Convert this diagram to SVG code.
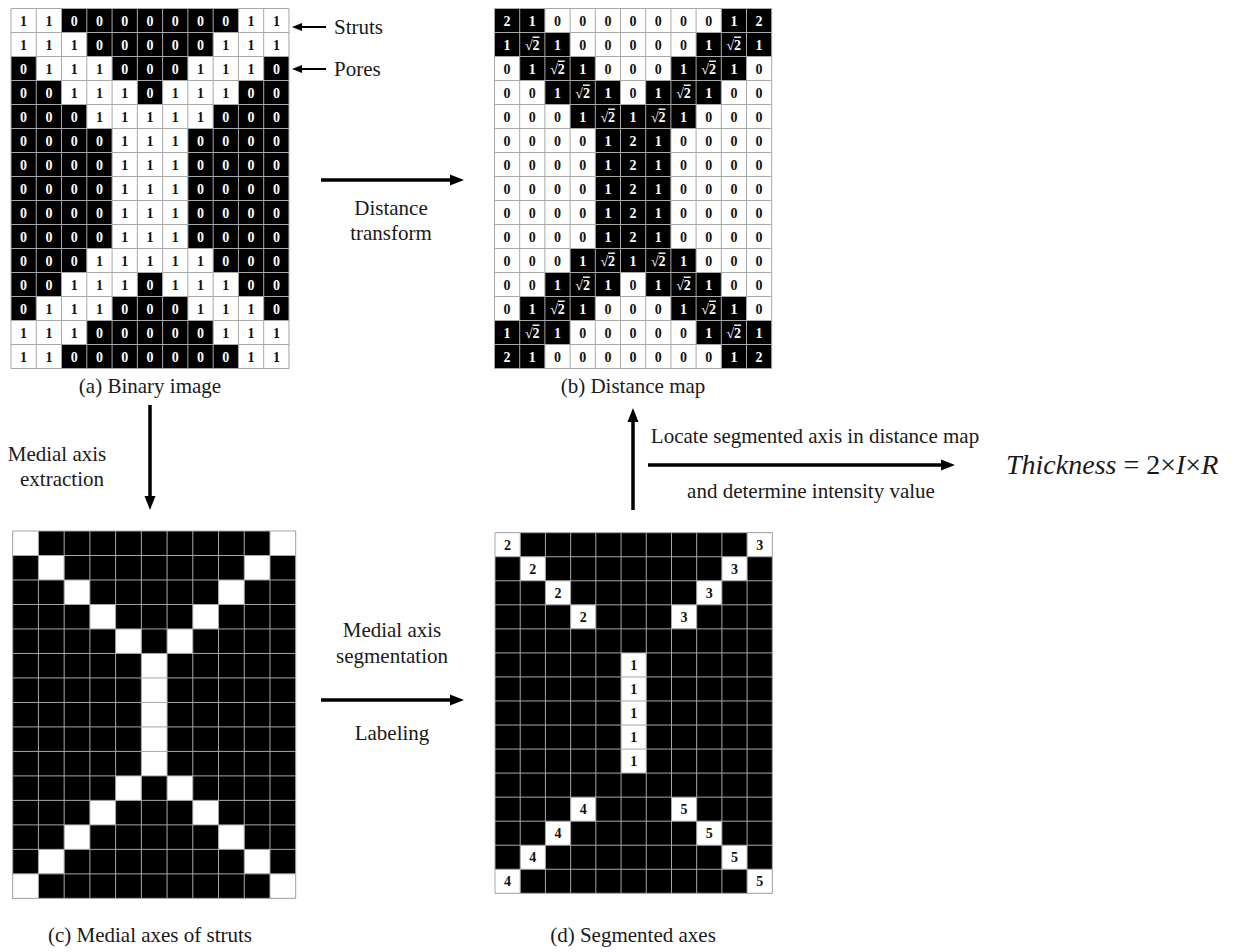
<svg xmlns="http://www.w3.org/2000/svg" xmlns:xlink="http://www.w3.org/1999/xlink" width="1237" height="952" viewBox="0 0 1237 952">
<style>
.gl{fill:none;stroke:#a8a8a8;stroke-width:1;vector-effect:non-scaling-stroke}
.n{font-family:"Liberation Serif","Times New Roman",serif;font-weight:bold;font-size:14px;text-anchor:middle}
.k{fill:#111}
.w{fill:#fff}
.o{text-decoration:overline}
.lb{font-family:"Liberation Serif","Times New Roman",serif;font-size:21px;fill:#1a1a1a}
.c{text-anchor:middle}
.eq{font-family:"Liberation Serif","Times New Roman",serif;font-size:28px;fill:#1a1a1a}
.it{font-style:italic}
.big{stroke:#000;stroke-width:3.5;fill:none}
.sm{stroke:#000;stroke-width:2;fill:none}
</style>
<defs>
<marker id="ah" markerUnits="userSpaceOnUse" markerWidth="14" markerHeight="14" viewBox="0 0 14 14" refX="6" refY="7" orient="auto"><path d="M0 1.5L14 7L0 12.5z" fill="#000"/></marker>
<marker id="ahs" markerUnits="userSpaceOnUse" markerWidth="10" markerHeight="8" viewBox="0 0 10 8" refX="4" refY="4" orient="auto"><path d="M0 0L10 4L0 8z" fill="#000"/></marker>
<path id="gridlines" class="gl" d="M0 0V15M1 0V15M2 0V15M3 0V15M4 0V15M5 0V15M6 0V15M7 0V15M8 0V15M9 0V15M10 0V15M11 0V15M0 0H11M0 1H11M0 2H11M0 3H11M0 4H11M0 5H11M0 6H11M0 7H11M0 8H11M0 9H11M0 10H11M0 11H11M0 12H11M0 13H11M0 14H11M0 15H11"/>
<path id="strut" d="M0 0h2v1h-2zM9 0h2v1h-2zM0 1h3v1h-3zM8 1h3v1h-3zM1 2h3v1h-3zM7 2h3v1h-3zM2 3h3v1h-3zM6 3h3v1h-3zM3 4h5v1h-5zM4 5h3v5h-3zM3 10h5v1h-5zM2 11h3v1h-3zM6 11h3v1h-3zM1 12h3v1h-3zM7 12h3v1h-3zM0 13h3v1h-3zM8 13h3v1h-3zM0 14h2v1h-2zM9 14h2v1h-2z"/>
<path id="axisSeg" d="M0 0h1v1h-1zM10 0h1v1h-1zM1 1h1v1h-1zM9 1h1v1h-1zM2 2h1v1h-1zM8 2h1v1h-1zM3 3h1v1h-1zM7 3h1v1h-1zM5 5h1v5h-1zM3 11h1v1h-1zM7 11h1v1h-1zM2 12h1v1h-1zM8 12h1v1h-1zM1 13h1v1h-1zM9 13h1v1h-1zM0 14h1v1h-1zM10 14h1v1h-1z"/>
<path id="axisJoin" d="M4 4h1v1h-1zM6 4h1v1h-1zM4 10h1v1h-1zM6 10h1v1h-1z"/>
</defs>
<rect width="1237" height="952" fill="#fff"/>

<g id="binary-image">
<rect x="11" y="8.5" width="278" height="360" fill="#000"/>
<use xlink:href="#strut" fill="#fff" transform="translate(11 8.5) scale(25.27 24)"/>
<use xlink:href="#gridlines" transform="translate(11 8.5) scale(25.27 24)"/>
<g class="n">
<text y="25.5"><tspan class="k" x="23.6 48.9">11</tspan><tspan class="w" x="74.2 99.5 124.7 150 175.3 200.5 225.8">0000000</tspan><tspan class="k" x="251.1 276.4">11</tspan></text>
<text y="49.5"><tspan class="k" x="23.6 48.9 74.2">111</tspan><tspan class="w" x="99.5 124.7 150 175.3 200.5">00000</tspan><tspan class="k" x="225.8 251.1 276.4">111</tspan></text>
<text y="73.5"><tspan class="w" x="23.6">0</tspan><tspan class="k" x="48.9 74.2 99.5">111</tspan><tspan class="w" x="124.7 150 175.3">000</tspan><tspan class="k" x="200.5 225.8 251.1">111</tspan><tspan class="w" x="276.4">0</tspan></text>
<text y="97.5"><tspan class="w" x="23.6 48.9">00</tspan><tspan class="k" x="74.2 99.5 124.7">111</tspan><tspan class="w" x="150">0</tspan><tspan class="k" x="175.3 200.5 225.8">111</tspan><tspan class="w" x="251.1 276.4">00</tspan></text>
<text y="121.5"><tspan class="w" x="23.6 48.9 74.2">000</tspan><tspan class="k" x="99.5 124.7 150 175.3 200.5">11111</tspan><tspan class="w" x="225.8 251.1 276.4">000</tspan></text>
<text y="145.5"><tspan class="w" x="23.6 48.9 74.2 99.5">0000</tspan><tspan class="k" x="124.7 150 175.3">111</tspan><tspan class="w" x="200.5 225.8 251.1 276.4">0000</tspan></text>
<text y="169.5"><tspan class="w" x="23.6 48.9 74.2 99.5">0000</tspan><tspan class="k" x="124.7 150 175.3">111</tspan><tspan class="w" x="200.5 225.8 251.1 276.4">0000</tspan></text>
<text y="193.5"><tspan class="w" x="23.6 48.9 74.2 99.5">0000</tspan><tspan class="k" x="124.7 150 175.3">111</tspan><tspan class="w" x="200.5 225.8 251.1 276.4">0000</tspan></text>
<text y="217.5"><tspan class="w" x="23.6 48.9 74.2 99.5">0000</tspan><tspan class="k" x="124.7 150 175.3">111</tspan><tspan class="w" x="200.5 225.8 251.1 276.4">0000</tspan></text>
<text y="241.5"><tspan class="w" x="23.6 48.9 74.2 99.5">0000</tspan><tspan class="k" x="124.7 150 175.3">111</tspan><tspan class="w" x="200.5 225.8 251.1 276.4">0000</tspan></text>
<text y="265.5"><tspan class="w" x="23.6 48.9 74.2">000</tspan><tspan class="k" x="99.5 124.7 150 175.3 200.5">11111</tspan><tspan class="w" x="225.8 251.1 276.4">000</tspan></text>
<text y="289.5"><tspan class="w" x="23.6 48.9">00</tspan><tspan class="k" x="74.2 99.5 124.7">111</tspan><tspan class="w" x="150">0</tspan><tspan class="k" x="175.3 200.5 225.8">111</tspan><tspan class="w" x="251.1 276.4">00</tspan></text>
<text y="313.5"><tspan class="w" x="23.6">0</tspan><tspan class="k" x="48.9 74.2 99.5">111</tspan><tspan class="w" x="124.7 150 175.3">000</tspan><tspan class="k" x="200.5 225.8 251.1">111</tspan><tspan class="w" x="276.4">0</tspan></text>
<text y="337.5"><tspan class="k" x="23.6 48.9 74.2">111</tspan><tspan class="w" x="99.5 124.7 150 175.3 200.5">00000</tspan><tspan class="k" x="225.8 251.1 276.4">111</tspan></text>
<text y="361.5"><tspan class="k" x="23.6 48.9">11</tspan><tspan class="w" x="74.2 99.5 124.7 150 175.3 200.5 225.8">0000000</tspan><tspan class="k" x="251.1 276.4">11</tspan></text>
</g>
<text class="lb c" x="150" y="393">(a) Binary image</text>
</g>

<g id="distance-map">
<rect x="494.5" y="8.5" width="277.2" height="360" fill="#fff"/>
<use xlink:href="#strut" fill="#000" transform="translate(494.5 8.5) scale(25.2 24)"/>
<use xlink:href="#gridlines" transform="translate(494.5 8.5) scale(25.2 24)"/>
<g class="n">
<text y="25.5"><tspan class="w" x="507.1 532.3">21</tspan><tspan class="k" x="557.5 582.7 607.9 633.1 658.3 683.5 708.7">0000000</tspan><tspan class="w" x="733.9 759.1">12</tspan></text>
<text y="49.5"><tspan class="w" x="507.1 528.8">1√</tspan><tspan class="w o" x="536">2</tspan><tspan class="w" x="557.5">1</tspan><tspan class="k" x="582.7 607.9 633.1 658.3 683.5">00000</tspan><tspan class="w" x="708.7 730.4">1√</tspan><tspan class="w o" x="737.6">2</tspan><tspan class="w" x="759.1">1</tspan></text>
<text y="73.5"><tspan class="k" x="507.1">0</tspan><tspan class="w" x="532.3 554">1√</tspan><tspan class="w o" x="561.2">2</tspan><tspan class="w" x="582.7">1</tspan><tspan class="k" x="607.9 633.1 658.3">000</tspan><tspan class="w" x="683.5 705.2">1√</tspan><tspan class="w o" x="712.4">2</tspan><tspan class="w" x="733.9">1</tspan><tspan class="k" x="759.1">0</tspan></text>
<text y="97.5"><tspan class="k" x="507.1 532.3">00</tspan><tspan class="w" x="557.5 579.2">1√</tspan><tspan class="w o" x="586.4">2</tspan><tspan class="w" x="607.9">1</tspan><tspan class="k" x="633.1">0</tspan><tspan class="w" x="658.3 680">1√</tspan><tspan class="w o" x="687.2">2</tspan><tspan class="w" x="708.7">1</tspan><tspan class="k" x="733.9 759.1">00</tspan></text>
<text y="121.5"><tspan class="k" x="507.1 532.3 557.5">000</tspan><tspan class="w" x="582.7 604.4">1√</tspan><tspan class="w o" x="611.6">2</tspan><tspan class="w" x="633.1 654.8">1√</tspan><tspan class="w o" x="662">2</tspan><tspan class="w" x="683.5">1</tspan><tspan class="k" x="708.7 733.9 759.1">000</tspan></text>
<text y="145.5"><tspan class="k" x="507.1 532.3 557.5 582.7">0000</tspan><tspan class="w" x="607.9 633.1 658.3">121</tspan><tspan class="k" x="683.5 708.7 733.9 759.1">0000</tspan></text>
<text y="169.5"><tspan class="k" x="507.1 532.3 557.5 582.7">0000</tspan><tspan class="w" x="607.9 633.1 658.3">121</tspan><tspan class="k" x="683.5 708.7 733.9 759.1">0000</tspan></text>
<text y="193.5"><tspan class="k" x="507.1 532.3 557.5 582.7">0000</tspan><tspan class="w" x="607.9 633.1 658.3">121</tspan><tspan class="k" x="683.5 708.7 733.9 759.1">0000</tspan></text>
<text y="217.5"><tspan class="k" x="507.1 532.3 557.5 582.7">0000</tspan><tspan class="w" x="607.9 633.1 658.3">121</tspan><tspan class="k" x="683.5 708.7 733.9 759.1">0000</tspan></text>
<text y="241.5"><tspan class="k" x="507.1 532.3 557.5 582.7">0000</tspan><tspan class="w" x="607.9 633.1 658.3">121</tspan><tspan class="k" x="683.5 708.7 733.9 759.1">0000</tspan></text>
<text y="265.5"><tspan class="k" x="507.1 532.3 557.5">000</tspan><tspan class="w" x="582.7 604.4">1√</tspan><tspan class="w o" x="611.6">2</tspan><tspan class="w" x="633.1 654.8">1√</tspan><tspan class="w o" x="662">2</tspan><tspan class="w" x="683.5">1</tspan><tspan class="k" x="708.7 733.9 759.1">000</tspan></text>
<text y="289.5"><tspan class="k" x="507.1 532.3">00</tspan><tspan class="w" x="557.5 579.2">1√</tspan><tspan class="w o" x="586.4">2</tspan><tspan class="w" x="607.9">1</tspan><tspan class="k" x="633.1">0</tspan><tspan class="w" x="658.3 680">1√</tspan><tspan class="w o" x="687.2">2</tspan><tspan class="w" x="708.7">1</tspan><tspan class="k" x="733.9 759.1">00</tspan></text>
<text y="313.5"><tspan class="k" x="507.1">0</tspan><tspan class="w" x="532.3 554">1√</tspan><tspan class="w o" x="561.2">2</tspan><tspan class="w" x="582.7">1</tspan><tspan class="k" x="607.9 633.1 658.3">000</tspan><tspan class="w" x="683.5 705.2">1√</tspan><tspan class="w o" x="712.4">2</tspan><tspan class="w" x="733.9">1</tspan><tspan class="k" x="759.1">0</tspan></text>
<text y="337.5"><tspan class="w" x="507.1 528.8">1√</tspan><tspan class="w o" x="536">2</tspan><tspan class="w" x="557.5">1</tspan><tspan class="k" x="582.7 607.9 633.1 658.3 683.5">00000</tspan><tspan class="w" x="708.7 730.4">1√</tspan><tspan class="w o" x="737.6">2</tspan><tspan class="w" x="759.1">1</tspan></text>
<text y="361.5"><tspan class="w" x="507.1 532.3">21</tspan><tspan class="k" x="557.5 582.7 607.9 633.1 658.3 683.5 708.7">0000000</tspan><tspan class="w" x="733.9 759.1">12</tspan></text>
</g>
<text class="lb c" x="633" y="393">(b) Distance map</text>
</g>

<g id="medial-axes">
<rect x="12.7" y="531" width="283" height="367.4" fill="#000"/>
<use xlink:href="#axisSeg" fill="#fff" transform="translate(12.7 531) scale(25.73 24.49)"/>
<use xlink:href="#axisJoin" fill="#fff" transform="translate(12.7 531) scale(25.73 24.49)"/>
<use xlink:href="#gridlines" transform="translate(12.7 531) scale(25.73 24.49)"/>
<text class="lb c" x="150" y="942">(c) Medial axes of struts</text>
</g>

<g id="segmented-axes">
<rect x="495" y="532.7" width="277.3" height="360.6" fill="#000"/>
<use xlink:href="#axisSeg" fill="#fff" transform="translate(495 532.7) scale(25.21 24.04)"/>
<use xlink:href="#gridlines" transform="translate(495 532.7) scale(25.21 24.04)"/>
<g class="n k">
<text y="549.7"><tspan x="507.6">2</tspan><tspan x="759.7">3</tspan></text>
<text y="573.7"><tspan x="532.8">2</tspan><tspan x="734.5">3</tspan></text>
<text y="597.8"><tspan x="558">2</tspan><tspan x="709.3">3</tspan></text>
<text y="621.8"><tspan x="583.2">2</tspan><tspan x="684.1">3</tspan></text>
<text x="633.7" y="669.9">1</text>
<text x="633.7" y="693.9">1</text>
<text x="633.7" y="718">1</text>
<text x="633.7" y="742">1</text>
<text x="633.7" y="766.1">1</text>
<text y="814.1"><tspan x="583.2">4</tspan><tspan x="684.1">5</tspan></text>
<text y="838.2"><tspan x="558">4</tspan><tspan x="709.3">5</tspan></text>
<text y="862.2"><tspan x="532.8">4</tspan><tspan x="734.5">5</tspan></text>
<text y="886.3"><tspan x="507.6">4</tspan><tspan x="759.7">5</tspan></text>
</g>
<text class="lb c" x="633" y="942">(d) Segmented axes</text>
</g>

<g id="thickness">
<text class="eq" x="1006" y="474"><tspan class="it">Thickness</tspan> = 2×<tspan class="it">I</tspan>×<tspan class="it">R</tspan></text>
</g>

<g id="connectors">
<line class="sm" x1="326" y1="27" x2="298" y2="27" marker-end="url(#ahs)"/>
<line class="sm" x1="326" y1="69" x2="298" y2="69" marker-end="url(#ahs)"/>
<line class="big" x1="321" y1="180" x2="456" y2="180" marker-end="url(#ah)"/>
<line class="big" x1="150" y1="405" x2="150" y2="502" marker-end="url(#ah)"/>
<line class="big" x1="321" y1="700" x2="456" y2="700" marker-end="url(#ah)"/>
<line class="big" x1="633" y1="510" x2="633" y2="416" marker-end="url(#ah)"/>
<line class="big" x1="648" y1="465" x2="947" y2="465" marker-end="url(#ah)"/>
</g>

<g id="labels">
<text class="lb" x="334" y="34">Struts</text>
<text class="lb" x="334" y="76">Pores</text>
<text class="lb c" x="391" y="215">Distance</text>
<text class="lb c" x="391" y="240">transform</text>
<text class="lb c" x="57" y="461">Medial axis</text>
<text class="lb c" x="62" y="486">extraction</text>
<text class="lb c" x="392" y="637">Medial axis</text>
<text class="lb c" x="392" y="663">segmentation</text>
<text class="lb c" x="392" y="740">Labeling</text>
<text class="lb c" x="815" y="443">Locate segmented axis in distance map</text>
<text class="lb c" x="811" y="498">and determine intensity value</text>
</g>
</svg>
